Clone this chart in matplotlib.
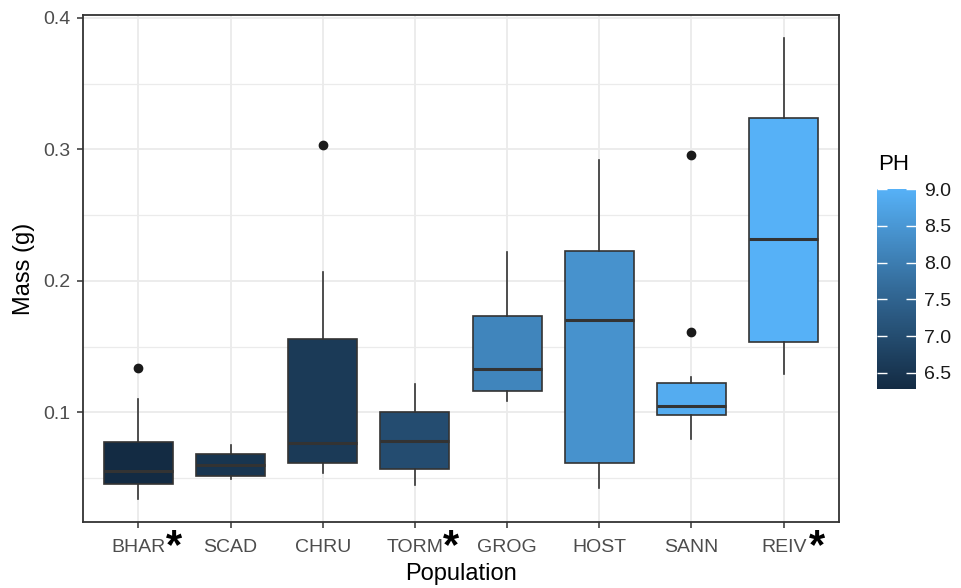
import numpy as np
import matplotlib.pyplot as plt
import matplotlib.colors as mcolors
from matplotlib.cm import ScalarMappable
from matplotlib.ticker import MultipleLocator

plt.rcParams['font.family'] = ['Liberation Sans', 'DejaVu Sans']

# Per-population summary stats (g)
populations = ['BHAR', 'SCAD', 'CHRU', 'TORM', 'GROG', 'HOST', 'SANN', 'REIV']
starred = ['BHAR', 'TORM', 'REIV']
ph = [6.28, 6.5, 6.6, 7.0, 8.15, 8.4, 8.9, 9.0]

whis_lo = [0.034, 0.049, 0.054, 0.0446, 0.1088, 0.0423, 0.0797, 0.1291]
q1 = [0.0454, 0.0517, 0.061, 0.0568, 0.1161, 0.0615, 0.0975, 0.1536]
median = [0.0555, 0.060, 0.0762, 0.078, 0.1328, 0.1702, 0.105, 0.2315]
q3 = [0.0775, 0.068, 0.156, 0.0998, 0.1734, 0.2228, 0.1226, 0.324]
whis_hi = [0.1097, 0.075, 0.2065, 0.1215, 0.2222, 0.2922, 0.127, 0.3847]
outliers = [[0.134], [], [0.3033], [], [], [], [0.2958, 0.1612], []]

# ggplot-style default continuous fill scale
cmap = mcolors.LinearSegmentedColormap.from_list('ph', ['#132B43', '#336A98', '#56B1F7'])
norm = mcolors.Normalize(vmin=min(ph), vmax=max(ph))

line_col = '#333333'
grid_col = '#ebebeb'

fig = plt.figure(figsize=(9.62, 5.88), dpi=100)
ax = fig.add_axes([83 / 962, 1 - 522 / 588, (839 - 83) / 962, (522 - 15) / 588])

stats = []
for i in range(len(populations)):
    stats.append(dict(med=median[i], q1=q1[i], q3=q3[i],
                      whislo=whis_lo[i], whishi=whis_hi[i],
                      fliers=outliers[i]))

positions = np.arange(1, len(populations) + 1)
bp = ax.bxp(stats, positions=positions, widths=0.75, patch_artist=True,
            showcaps=False,
            boxprops=dict(edgecolor=line_col, linewidth=1.2),
            medianprops=dict(color=line_col, linewidth=2.2),
            whiskerprops=dict(color=line_col, linewidth=1.2),
            flierprops=dict(marker='o', markerfacecolor='#1a1a1a',
                            markeredgecolor='#1a1a1a', markersize=6))
for box, p in zip(bp['boxes'], ph):
    box.set_facecolor(cmap(norm(p)))

# limits with 5% expansion like ggplot
all_vals = whis_lo + whis_hi + [v for o in outliers for v in o]
lo, hi = min(all_vals), max(all_vals)
pad = 0.05 * (hi - lo)
ax.set_ylim(lo - pad, hi + pad)
ax.set_xlim(0.4, len(populations) + 0.6)

ax.yaxis.set_major_locator(MultipleLocator(0.1))
ax.yaxis.set_minor_locator(MultipleLocator(0.05))
ax.set_yticks([0.1, 0.2, 0.3, 0.4])
ax.set_yticklabels(['0.1', '0.2', '0.3', '0.4'])
ax.set_xticks(positions)
ax.set_xticklabels(populations)

ax.set_axisbelow(True)
ax.grid(True, which='major', color=grid_col, linewidth=1.3)
ax.grid(True, which='minor', axis='y', color=grid_col, linewidth=0.9)
ax.tick_params(which='minor', length=0)
ax.tick_params(which='major', length=4, width=1.1, color=line_col,
               labelcolor='#4d4d4d', labelsize=14)
ax.tick_params(axis='x', pad=8.5)
ax.tick_params(axis='y', pad=5)
for s in ax.spines.values():
    s.set_color(line_col)
    s.set_linewidth(1.3)

ax.set_xlabel('Population', fontsize=17, color='black', labelpad=4.5)
ax.set_ylabel('Mass (g)', fontsize=17, color='black', labelpad=6)

# asterisks next to flagged populations
for i, name in enumerate(populations):
    if name in starred:
        dx = 33 if name == 'REIV' else 36
        ax.annotate('*', xy=(positions[i], 0), xycoords=('data', 'axes fraction'),
                    xytext=(dx, -25), textcoords='offset pixels',
                    ha='center', va='center', fontsize=30, fontweight='bold',
                    color='black', annotation_clip=False)

# colour bar legend
cax = fig.add_axes([877 / 962, 1 - 389 / 588, 39 / 962, 200 / 588])
cb = fig.colorbar(ScalarMappable(norm=norm, cmap=cmap), cax=cax,
                  ticks=[6.5, 7.0, 7.5, 8.0, 8.5, 9.0])
cb.outline.set_visible(False)
cb.ax.set_yticklabels(['6.5', '7.0', '7.5', '8.0', '8.5', '9.0'])
cb.ax.tick_params(left=True, right=True, direction='in', length=7, width=1,
                  color='white', labelcolor='#1a1a1a', labelsize=14, pad=6)
fig.text(878 / 962, 1 - 165 / 588, 'PH', fontsize=16, color='black',
         ha='left', va='center')

fig.savefig('out.png', dpi=100)
